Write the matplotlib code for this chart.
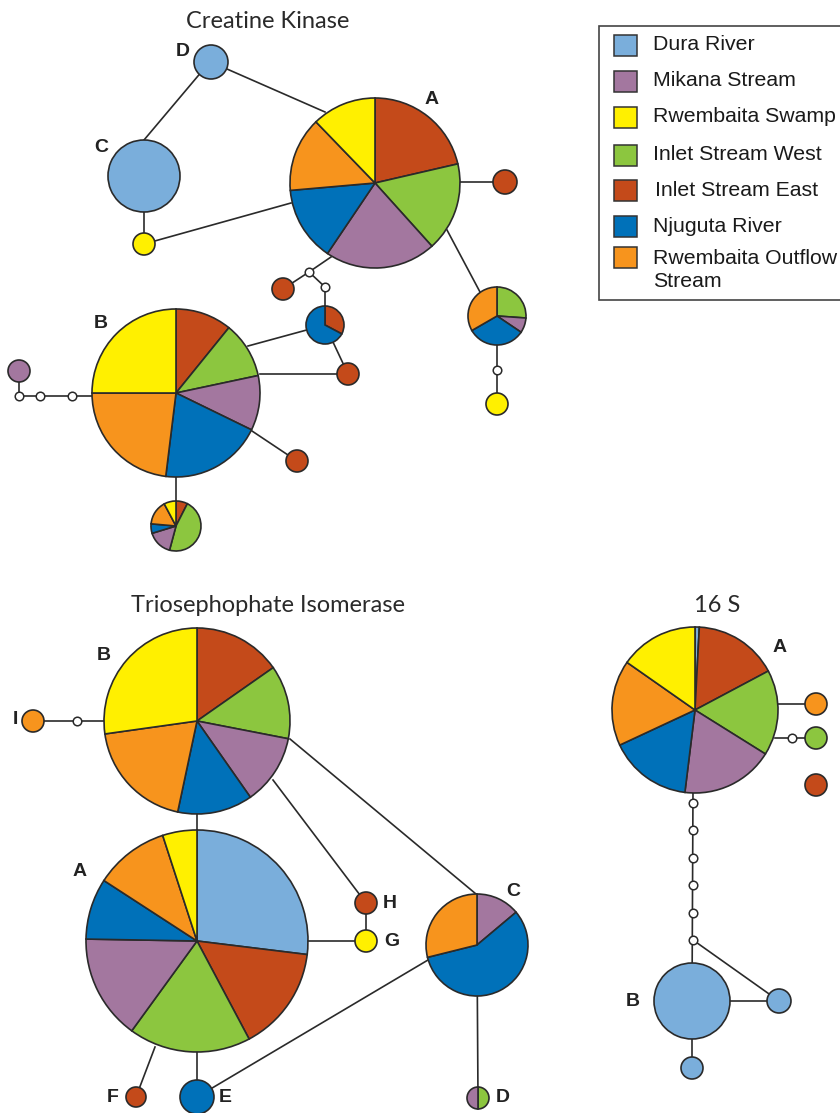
import matplotlib.pyplot as plt
from matplotlib.patches import Rectangle

H = 1113

# populations and colours
pops = ["Dura River", "Mikana Stream", "Rwembaita Swamp", "Inlet Stream West",
        "Inlet Stream East", "Njuguta River", "Rwembaita Outflow\nStream"]
pop_colors = {"Dura": "#7aaedb", "Mikana": "#a3779f", "Swamp": "#fff000",
              "West": "#8cc63f", "East": "#c44a1a", "Njuguta": "#0071b9",
              "Outflow": "#f7941d"}
pop_keys = ["Dura", "Mikana", "Swamp", "West", "East", "Njuguta", "Outflow"]

# --- Creatine Kinase haplotypes (slices clockwise from top, degrees) ---
ck_A_pops = ["East", "West", "Mikana", "Njuguta", "Outflow", "Swamp"]
ck_A_vals = [77, 61, 76, 51, 51, 44]
ck_B_pops = ["East", "West", "Mikana", "Njuguta", "Outflow", "Swamp"]
ck_B_vals = [39, 39, 38, 71, 83, 90]
ck_small_pops = ["East", "West", "Mikana", "Njuguta", "Outflow", "Swamp"]
ck_small_vals = [27, 168, 58, 22, 57, 28]
ck_right_pops = ["West", "Mikana", "Njuguta", "Outflow"]
ck_right_vals = [94, 30, 116, 120]
ck_mid_pops = ["East", "Njuguta"]
ck_mid_vals = [118, 242]

# --- Triosephophate Isomerase ---
tpi_A_pops = ["Dura", "East", "West", "Mikana", "Njuguta", "Outflow", "Swamp"]
tpi_A_vals = [97, 55, 64, 55, 32, 39, 18]
tpi_B_pops = ["East", "West", "Mikana", "Njuguta", "Outflow", "Swamp"]
tpi_B_vals = [55, 46, 44, 47, 70, 98]
tpi_C_pops = ["Mikana", "Njuguta", "Outflow"]
tpi_C_vals = [50, 206, 104]
tpi_D_pops = ["West", "Mikana"]
tpi_D_vals = [1, 1]

# --- 16 S ---
s16_A_pops = ["Dura", "East", "West", "Mikana", "Njuguta", "Outflow", "Swamp"]
s16_A_vals = [3, 59, 60, 65, 58, 60, 55]

# node layout (pixel positions x, y, radius)
nodes = {
    # Creatine Kinase
    "ckA": (375, 183, 85), "ckB": (176, 393, 84), "ckC": (144, 176, 36),
    "ckD": (211, 62, 17), "ckY1": (144, 244, 11), "ckR1": (505, 182, 12),
    "ckR2": (283, 289, 11), "ckMid": (325, 325, 19), "ckR3": (348, 374, 11),
    "ckR4": (297, 461, 11), "ckSmall": (176, 526, 25), "ckP1": (19, 371, 11),
    "ckRight": (497, 316, 29), "ckY2": (497, 404, 11),
    # TPI
    "tA": (197, 941, 111), "tB": (197, 721, 93), "tC": (477, 945, 51),
    "tD": (478, 1098, 11), "tE": (197, 1097, 17), "tF": (136, 1097, 10),
    "tG": (366, 941, 11), "tH": (366, 903, 11), "tI": (33, 721, 11),
    # 16S
    "sA": (695, 710, 83), "sB": (692, 1001, 38), "sO": (816, 704, 11),
    "sG": (816, 738, 11), "sR": (816, 785, 11), "sB1": (779, 1001, 12),
    "sB2": (692, 1068, 11),
}

# missing (median) vertices
white = [(309, 272), (325, 287), (19, 396), (40, 396), (72, 396), (497, 370),
         (77, 721), (792, 738),
         (693, 803), (693, 830), (693, 858), (693, 885), (693, 913), (693, 940)]

# connections drawn underneath nodes (x1, y1, x2, y2)
links = [
    (211, 62, 325, 112), (144, 140, 203, 70), (144, 176, 144, 244),
    (144, 244, 291, 203), (458, 182, 505, 182), (447, 230, 480, 292),
    (331, 257, 309, 272), (309, 272, 283, 289), (309, 272, 325, 287),
    (325, 287, 325, 325), (325, 325, 348, 374), (325, 325, 248, 346),
    (348, 374, 260, 374), (252, 431, 297, 461), (176, 477, 176, 526),
    (92, 396, 19, 396), (19, 396, 19, 371), (497, 316, 497, 404),
    # TPI
    (33, 721, 104, 721), (197, 721, 197, 941), (273, 780, 366, 903),
    (290, 739, 476, 894), (366, 903, 366, 941), (197, 941, 366, 941),
    (155, 1047, 136, 1097), (197, 941, 197, 1097), (197, 1097, 428, 960),
    (477, 945, 478, 1098),
    # 16S
    (695, 704, 816, 704), (775, 738, 816, 738), (693, 790, 692, 1001),
    (693, 940, 779, 1001), (692, 1001, 779, 1001), (692, 1001, 692, 1068),
]

edge = "#2a2a2a"
plt.rcParams["font.family"] = ["Liberation Sans", "DejaVu Sans"]

fig = plt.figure(figsize=(8.4, 11.13), dpi=100)
ax = fig.add_axes([0, 0, 1, 1])


def pie(name, keys, vals):
    x, y, r = nodes[name]
    ax.pie(vals, colors=[pop_colors[k] for k in keys], center=(x, H - y),
           radius=r, startangle=90, counterclock=False, frame=True,
           wedgeprops=dict(edgecolor=edge, linewidth=1.2))


def dot(name, key):
    pie(name, [key], [1])


for x1, y1, x2, y2 in links:
    ax.plot([x1, x2], [H - y1, H - y2], color=edge, lw=1.2, zorder=0)

pie("ckA", ck_A_pops, ck_A_vals)
pie("ckB", ck_B_pops, ck_B_vals)
pie("ckSmall", ck_small_pops, ck_small_vals)
pie("ckRight", ck_right_pops, ck_right_vals)
pie("ckMid", ck_mid_pops, ck_mid_vals)
dot("ckC", "Dura")
dot("ckD", "Dura")
dot("ckY1", "Swamp")
dot("ckY2", "Swamp")
for n in ["ckR1", "ckR2", "ckR3", "ckR4"]:
    dot(n, "East")
dot("ckP1", "Mikana")

pie("tA", tpi_A_pops, tpi_A_vals)
pie("tB", tpi_B_pops, tpi_B_vals)
pie("tC", tpi_C_pops, tpi_C_vals)
pie("tD", tpi_D_pops, tpi_D_vals)
dot("tE", "Njuguta")
dot("tF", "East")
dot("tG", "Swamp")
dot("tH", "East")
dot("tI", "Outflow")

pie("sA", s16_A_pops, s16_A_vals)
dot("sB", "Dura")
dot("sB1", "Dura")
dot("sB2", "Dura")
dot("sO", "Outflow")
dot("sG", "West")
dot("sR", "East")

wx = [p[0] for p in white]
wy = [H - p[1] for p in white]
ax.scatter(wx, wy, s=38, facecolor="white", edgecolor=edge, linewidth=1.1, zorder=5)

# haplotype labels
labels = [("A", 432, 100), ("B", 101, 323), ("C", 101, 148), ("D", 183, 52),
          ("A", 80, 872), ("B", 104, 656), ("C", 513, 891), ("D", 503, 1098),
          ("E", 225, 1097), ("F", 113, 1097), ("G", 392, 941), ("H", 390, 903),
          ("I", 15, 720),
          ("A", 780, 647), ("B", 633, 1001)]
for t, x, y in labels:
    ax.text(x, H - y, t, fontsize=14, fontweight="bold", ha="center",
            va="center", color="#222222")

# titles
for t, x, y in [("Creatine Kinase", 268, 21), ("Triosephophate Isomerase", 268, 605),
                ("16 S", 717, 605)]:
    ax.text(x, H - y, t, fontsize=17, ha="center", va="center", color="#2a2a2a",
            family=["Lato", "DejaVu Sans"])

# legend
ax.add_patch(Rectangle((599, H - 300), 260, 274, facecolor="white",
                       edgecolor="#444444", lw=1.2, zorder=6))
row_y = [45, 81, 117, 155, 190, 226, 257]
for k, lab, yy in zip(pop_keys, pops, row_y):
    ax.add_patch(Rectangle((614, H - yy - 10.5), 23, 21, facecolor=pop_colors[k],
                           edgecolor="#333333", lw=1.1, zorder=7))
    dx = 2 if k == "East" else 0
    ty = yy + 13 if "\n" in lab else yy
    ax.text(653 + dx, H - ty, lab, fontsize=15.3, va="center", ha="left",
            color="#1a1a1a", zorder=7, linespacing=1.3)

ax.set_xlim(0, 840)
ax.set_ylim(0, H)
ax.set_aspect("equal")
ax.axis("off")
fig.savefig("out.png", dpi=100)
